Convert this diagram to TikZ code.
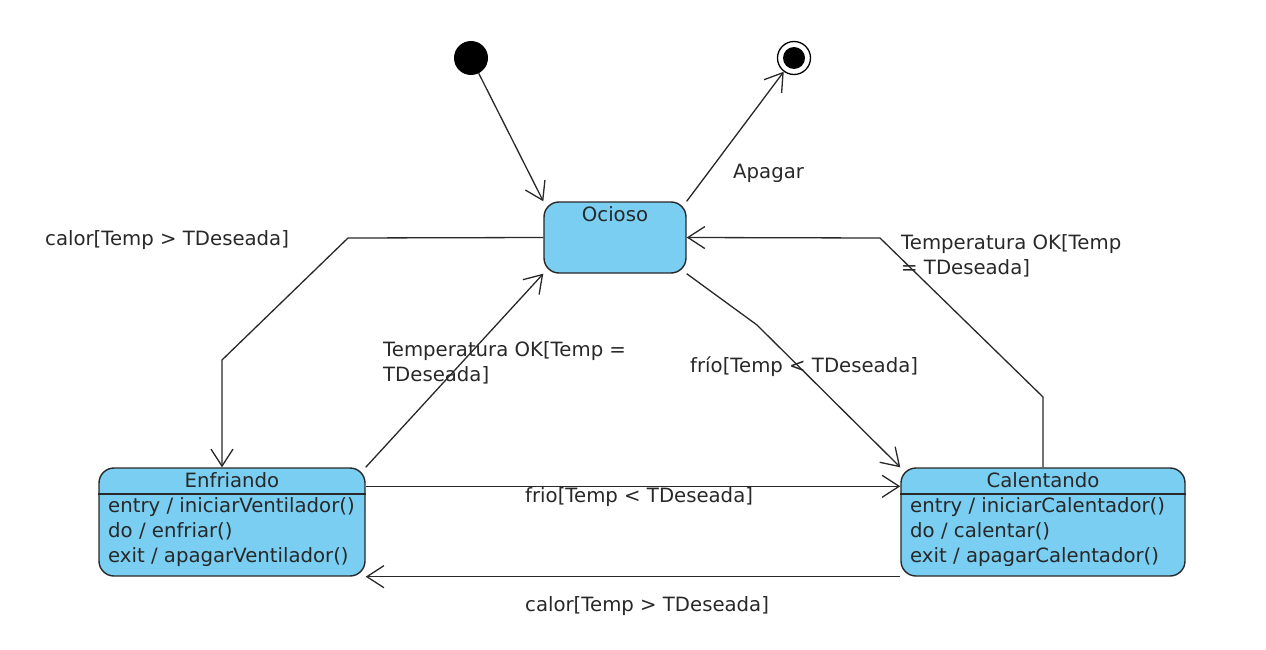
\documentclass[tikz,border=0pt]{standalone}
\usepackage{fontspec}
\setmainfont{DejaVu Sans}
\usetikzlibrary{arrows.meta,calc}
\definecolor{stfill}{RGB}{121,206,242}
\definecolor{ink}{RGB}{40,40,40}
\begin{document}
\begin{tikzpicture}[x=1pt,y=-1pt,
  every node/.style={font=\fontsize{19.7}{25}\selectfont, text=ink},
  state/.style={draw=ink, fill=stfill, line width=1.4pt, rounded corners=15pt, inner sep=0pt},
  lbl/.style={inner sep=0pt, anchor=west, align=left},
  conn/.style={draw=ink, line width=1.3pt, -{Straight Barb[length=17pt,width=22pt,line width=1.3pt]}}
]
\useasboundingbox (0,0) rectangle (1266,650);
% states
\node[state, minimum width=142pt, minimum height=71pt] (oc) at (615,237.5) {};
\node[inner sep=0pt] (octitle) at (615,214) {Ocioso};

\node[state, minimum width=266pt, minimum height=108pt] (enf) at (232,522) {};
\draw[ink, line width=1.4pt] (enf.west |- 0,494) -- (enf.east |- 0,494);
\node[inner sep=0pt] (enftitle) at (232,480) {Enfriando};
\node[lbl] (enfbody) at (108,532) {entry / iniciarVentilador()\\do / enfriar()\\exit / apagarVentilador()};

\node[state, minimum width=284pt, minimum height=108pt] (cal) at (1043,522) {};
\draw[ink, line width=1.4pt] (cal.west |- 0,494) -- (cal.east |- 0,494);
\node[inner sep=0pt] (caltitle) at (1043,480) {Calentando};
\node[lbl] (calbody) at (910,532) {entry / iniciarCalentador()\\do / calentar()\\exit / apagarCalentador()};

% pseudo states
\node[circle, fill=black, minimum size=34pt, inner sep=0pt] (init) at (471,58) {};
\node[circle, draw=black, fill=white, line width=1.3pt, minimum size=33pt, inner sep=0pt] (fin) at (794,58) {};
\node[circle, fill=black, minimum size=22pt, inner sep=0pt] (fininner) at (794,58) {};

% bend points
\coordinate (a1) at (348,238);
\coordinate (a2) at (222,360);
\coordinate (b1) at (757,325);
\coordinate (c1) at (1043,397);
\coordinate (c2) at (880,238);

% connectors
\draw[conn] (init) -- (oc.north west);
\draw[conn] (oc.north east) -- (fin);
\draw[conn] (oc.west) -- (a1) -- (a2) -- (a2 |- enf.north);
\draw[conn] (enf.north east) -- (oc.south west);
\draw[conn] (oc.south east) -- (b1) -- (cal.north west);
\draw[conn] (cal.north) -- (c1) -- (c2) -- (oc.east);
\draw[conn] ($(enf.north east)+(0,19)$) -- ($(cal.north west)+(0,19)$);
\draw[conn] (cal.south west) -- (enf.south east);

% labels
\node[lbl] (l1) at (733,173) {Apagar};
\node[lbl] (l2) at (45,240) {calor[Temp > TDeseada]};
\node[lbl] (l3) at (383,362.5) {Temperatura OK[Temp =\\TDeseada]};
\node[lbl] (l4) at (690,367) {frío[Temp < TDeseada]};
\node[lbl] (l5) at (901,255.5) {Temperatura OK[Temp\\= TDeseada]};
\node[lbl] (l6) at (525,497) {frio[Temp < TDeseada]};
\node[lbl] (l7) at (525,606) {calor[Temp > TDeseada]};
\end{tikzpicture}
\end{document}
